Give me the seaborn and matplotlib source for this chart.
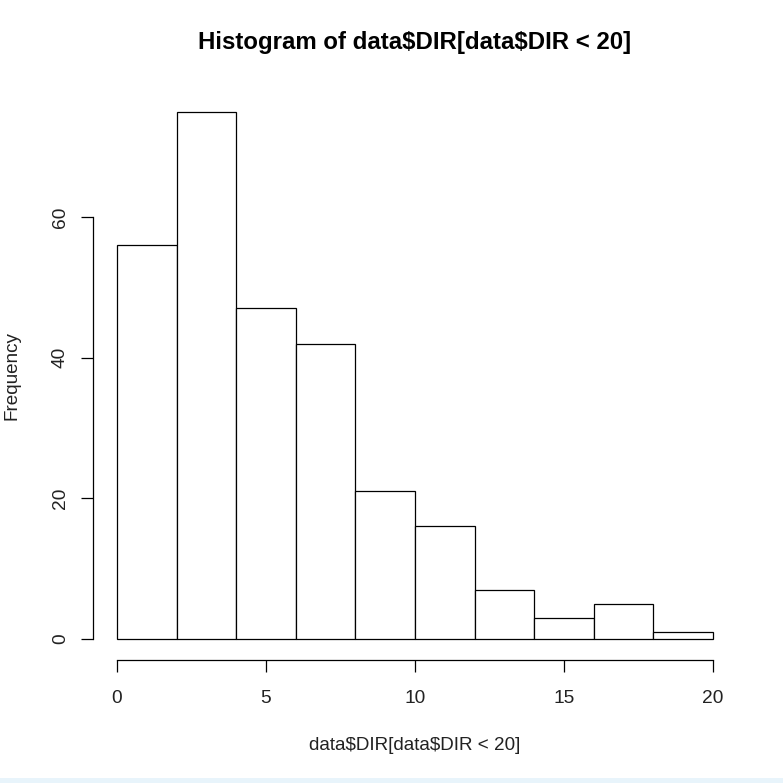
import matplotlib
matplotlib.use("Agg")
import matplotlib.pyplot as plt
import seaborn as sns
import numpy as np
import pandas as pd
from matplotlib.patches import Rectangle

# Data
bin_edges = [0, 2, 4, 6, 8, 10, 12, 14, 16, 18, 20]
counts = [56, 75, 47, 42, 21, 16, 7, 3, 5, 1]
x_ticks = [0, 5, 10, 15, 20]
y_ticks = [0, 20, 40, 60]
title = "Histogram of data$DIR[data$DIR < 20]"
x_label = "data$DIR[data$DIR < 20]"
y_label = "Frequency"

sns.set_theme(style="white")
plt.rcParams['font.family'] = ['Liberation Sans', 'DejaVu Sans']
plt.rcParams['text.parse_math'] = False

mids = [(a + b) / 2 for a, b in zip(bin_edges[:-1], bin_edges[1:])]
df = pd.DataFrame({"x": mids, "w": counts})

fig = plt.figure(figsize=(7.83, 7.83), dpi=100)
fig.patch.set_facecolor("white")
ax = fig.add_axes([0.119, 0.157, 0.822, 0.7275])

sns.histplot(data=df, x="x", weights="w", bins=bin_edges, ax=ax,
             color="white", edgecolor="black", linewidth=0.9, alpha=1.0)

ax.set_xlim(-0.8, 20.8)
ax.set_ylim(-3, 78)
ax.set_xticks(x_ticks)
ax.set_yticks(y_ticks)
ax.set_yticklabels([str(v) for v in y_ticks], rotation=90, va="center")
ax.tick_params(axis="both", direction="out", length=8.5, width=0.9,
               color="black", labelsize=13.8, labelcolor="#222222",
               bottom=True, left=True)
ax.tick_params(axis="x", pad=13)
ax.tick_params(axis="y", pad=9)

for s in ["top", "right"]:
    ax.spines[s].set_visible(False)
for s in ["left", "bottom"]:
    ax.spines[s].set_color("black")
    ax.spines[s].set_linewidth(0.9)
ax.spines["left"].set_bounds(0, 60)
ax.spines["bottom"].set_bounds(0, 20)
ax.grid(False)
ax.set_facecolor("white")

ax.set_xlabel("")
ax.set_ylabel("")
fig.text(415 / 783, 1 - 745 / 783, x_label, ha="center", va="center",
         fontsize=13.6, color="#222222")
fig.text(12 / 783, 1 - 375 / 783, y_label, ha="center", va="center",
         rotation=90, fontsize=13.6, color="#222222")
fig.text(415 / 783, 1 - 43 / 783, title, ha="center", va="center",
         fontsize=17.3, fontweight="bold", color="black")

# light blue strip at the bottom edge of the screenshot
fig.patches.append(Rectangle((0, 0), 1, 5 / 783, transform=fig.transFigure,
                             facecolor="#e8f4fb", edgecolor="none", zorder=0))

fig.savefig("out.png", dpi=100, facecolor="white")
